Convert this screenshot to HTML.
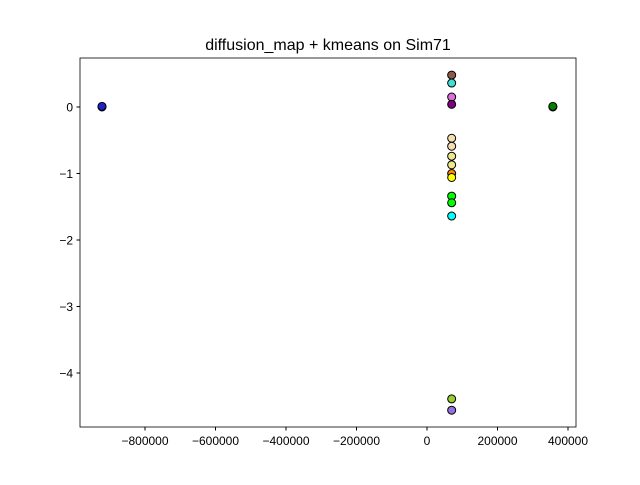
<!DOCTYPE html>
<html><head><meta charset="utf-8"><style>
body{margin:0;background:#fff;font-family:"Liberation Sans","DejaVu Sans",sans-serif}
</style></head><body>
<svg id="c" width="640" height="480" xmlns="http://www.w3.org/2000/svg">
<rect width="640" height="480" fill="#fff"/>
<text x="328" y="50" font-size="16" text-anchor="middle">diffusion_map + kmeans on Sim71</text>
<g id="pts"></g>
<g id="ax"></g>
</svg>
<script>
const xs=[-922000,-922000,357000,357000,70000,70000,70000,70000,70000,70000,70000,70000,70000,70000,70000,70000,70000,70000,70000];
const ys=[0.0,0.01,0.0,0.01,0.48,0.36,0.15,0.04,-0.47,-0.59,-0.74,-0.87,-1.0,-1.06,-1.34,-1.44,-1.64,-4.39,-4.56];
const colors=["#0000ff","#2020cc","#006400","#008000","#8b5a4a","#40e0d0","#da70d6","#800080","#f5deb3","#f5deb3","#f0e68c","#f0e68c","#ff8c00","#ffff00","#00ff00","#00ff00","#00ffff","#9acd32","#9370db"];
const xTicks=[-800000,-600000,-400000,-200000,0,200000,400000];
const xLabels=["\u2212800000","\u2212600000","\u2212400000","\u2212200000","0","200000","400000"];
const yTicks=[0,-1,-2,-3,-4];
const yLabels=["0","\u22121","\u22122","\u22123","\u22124"];
const L=80,R=576,T=58,B=427;
const X=v=>427+v*70.5/200000;
const Y=v=>107-v*66.5;
const NS="http://www.w3.org/2000/svg";
const pts=document.getElementById('pts'),ax=document.getElementById('ax');
for(let i=0;i<xs.length;i++){
 const c=document.createElementNS(NS,'circle');
 c.setAttribute('cx',X(xs[i]));c.setAttribute('cy',Y(ys[i]));c.setAttribute('r',4);
 c.setAttribute('fill',colors[i]);c.setAttribute('stroke','#000');c.setAttribute('stroke-width',1);
 
 
 pts.appendChild(c);
}
const fr=document.createElementNS(NS,'rect');
fr.setAttribute('x',L);fr.setAttribute('y',T);fr.setAttribute('width',R-L);fr.setAttribute('height',B-T);
fr.setAttribute('fill','none');fr.setAttribute('stroke','#000');fr.setAttribute('stroke-width',0.8);


ax.appendChild(fr);
xTicks.forEach((v,i)=>{
 const x=X(v);
 const l=document.createElementNS(NS,'line');
 l.setAttribute('x1',x);l.setAttribute('x2',x);l.setAttribute('y1',B);l.setAttribute('y2',B+3.5);l.setAttribute('stroke','#000');
 
 
 ax.appendChild(l);
 const t=document.createElementNS(NS,'text');
 t.setAttribute('x',x);t.setAttribute('y',B+18);t.setAttribute('font-size',12);t.setAttribute('text-anchor','middle');
 t.textContent=xLabels[i];
 
 
 ax.appendChild(t);
});
yTicks.forEach((v,i)=>{
 const y=Y(v);
 const l=document.createElementNS(NS,'line');
 l.setAttribute('x1',L-3.5);l.setAttribute('x2',L);l.setAttribute('y1',y);l.setAttribute('y2',y);l.setAttribute('stroke','#000');
 
 
 ax.appendChild(l);
 const t=document.createElementNS(NS,'text');
 t.setAttribute('x',L-7);t.setAttribute('y',y+4.5);t.setAttribute('font-size',12);t.setAttribute('text-anchor','end');
 t.textContent=yLabels[i];
 
 
 ax.appendChild(t);
});
</script>
</body></html>
